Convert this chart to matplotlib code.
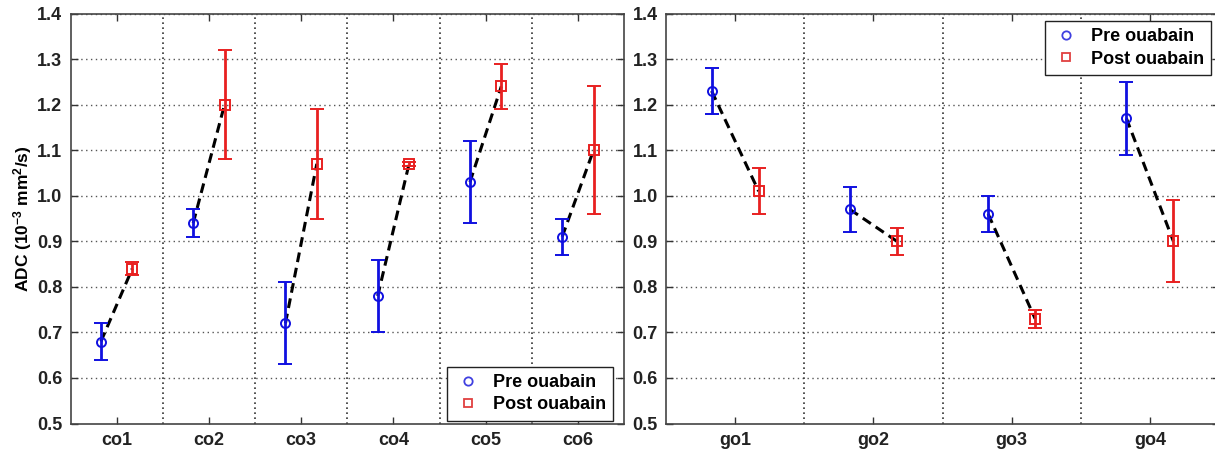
import matplotlib
matplotlib.use("Agg")
import matplotlib.pyplot as plt
import numpy as np
from matplotlib.lines import Line2D

plt.rcParams['font.family'] = ['Liberation Sans', 'DejaVu Sans']
plt.rcParams['font.weight'] = 'bold'
plt.rcParams['mathtext.fontset'] = 'custom'
plt.rcParams['mathtext.rm'] = 'Liberation Sans:bold'
plt.rcParams['mathtext.bf'] = 'Liberation Sans:bold'
plt.rcParams['mathtext.default'] = 'bf'

co_labels = ['co1', 'co2', 'co3', 'co4', 'co5', 'co6']
co_pre = [0.68, 0.94, 0.72, 0.78, 1.03, 0.91]
co_pre_err = [0.04, 0.03, 0.09, 0.08, 0.09, 0.04]
co_post = [0.84, 1.20, 1.07, 1.07, 1.24, 1.10]
co_post_err = [0.015, 0.12, 0.12, 0.005, 0.05, 0.14]

go_labels = ['go1', 'go2', 'go3', 'go4']
go_pre = [1.23, 0.97, 0.96, 1.17]
go_pre_err = [0.05, 0.05, 0.04, 0.08]
go_post = [1.01, 0.90, 0.73, 0.90]
go_post_err = [0.05, 0.03, 0.02, 0.09]

y_ticks = [0.5, 0.6, 0.7, 0.8, 0.9, 1.0, 1.1, 1.2, 1.3, 1.4]

fig = plt.figure(figsize=(12.15, 4.5), dpi=100)
W, H = 1215, 450
ax1 = fig.add_axes([70.5 / W, 1 - 423.5 / H, (624 - 70.5) / W, (423.5 - 13.5) / H])
ax2 = fig.add_axes([666 / W, 1 - 423.5 / H, (1219 - 666) / W, (423.5 - 13.5) / H])

off = 0.17


def draw(ax, labels, pre, pre_err, post, post_err, loc, anchor):
    n = len(labels)
    x = np.arange(1, n + 1)
    for i in range(n):
        ax.plot([x[i] - off, x[i] + off], [pre[i], post[i]], color='black',
                ls=(0, (3.2, 1.9)), lw=2.2, zorder=3)
    ax.errorbar(x - off, pre, yerr=pre_err, fmt='o', color='#1010e0',
                mfc='none', ms=6.5, mew=1.4, elinewidth=2, capsize=5,
                capthick=2, zorder=4)
    ax.errorbar(x + off, post, yerr=post_err, fmt='s', color='#e82020',
                mfc='none', ms=6.5, mew=1.4, elinewidth=2, capsize=5,
                capthick=2, zorder=4)
    ax.set_xlim(0.5, n + 0.5)
    ax.set_ylim(0.5, 1.4)
    ax.set_xticks(x)
    ax.set_xticklabels(labels, fontsize=13, fontweight='bold')
    ax.set_yticks(y_ticks)
    ax.set_yticklabels([f'{v:.1f}' for v in y_ticks], fontsize=13, fontweight='bold')
    for yv in y_ticks[1:]:
        ax.axhline(yv, color='#555555', ls=(0, (1, 2.5)), lw=1, zorder=1)
    for xv in np.arange(1.5, n, 1.0):
        ax.axvline(xv, color='#333333', ls=(0, (1, 2)), lw=1.2, zorder=1)
    ax.tick_params(direction='in', length=5, width=1, top=True, right=True,
                   colors='#333333', labelcolor='#222222', pad=6)
    for s in ax.spines.values():
        s.set_color('#444444')
        s.set_linewidth(1.2)
    hpre = Line2D([], [], marker='o', ls='none', color='#4040e0', mfc='none', ms=6, mew=1.3)
    hpost = Line2D([], [], marker='s', ls='none', color='#e04040', mfc='none', ms=6, mew=1.3)
    leg = ax.legend([hpre, hpost], ['Pre ouabain', 'Post ouabain'], loc=loc,
                    bbox_to_anchor=anchor, borderaxespad=0, fancybox=False,
                    framealpha=1, edgecolor='#222222',
                    prop={'weight': 'bold', 'size': 13},
                    handlelength=1.6, handletextpad=0.55, borderpad=0.4,
                    labelspacing=0.3)
    leg.get_frame().set_linewidth(1.0)


draw(ax1, co_labels, co_pre, co_pre_err, co_post, co_post_err, 'lower right', (0.980, 0.007))
draw(ax2, go_labels, go_pre, go_pre_err, go_post, go_post_err, 'upper right', (0.9855, 0.982))

ax1.set_ylabel('ADC (10$^{-3}$ mm$^{2}$/s)', fontsize=12.5, fontweight='bold', labelpad=2)

fig.savefig('out.png', dpi=100, facecolor='white')
